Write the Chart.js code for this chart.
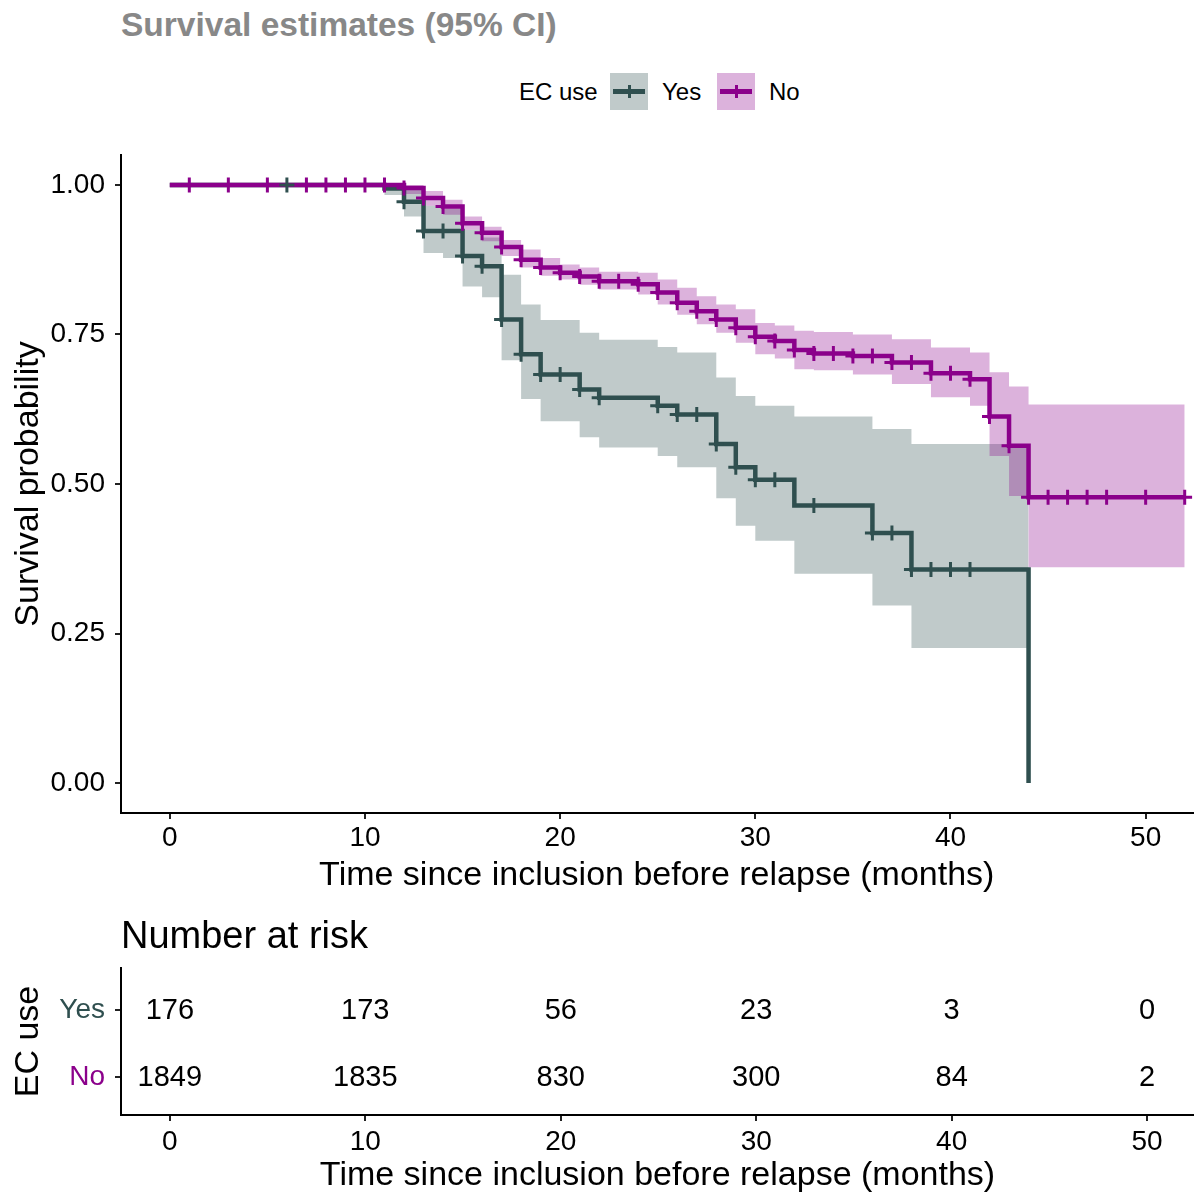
<!DOCTYPE html>
<html>
<head>
<meta charset="utf-8">
<title>Survival estimates</title>
<script src="https://cdn.jsdelivr.net/npm/chart.js"></script>
<style>
  body { margin: 0; background: #fff; width: 1194px; height: 1196px; position: relative; overflow: hidden;
         font-family: "Liberation Sans", Arial, sans-serif; }
  canvas { position: absolute; left: 0; }
  #kmChart { top: 0; }
  #riskChart { top: 900px; }
  .txt { position: absolute; white-space: nowrap; line-height: 1; }
  .key { position: absolute; width: 38px; height: 37px; }
  .key .ln { position: absolute; left: 3px; top: 16px; width: 32px; height: 5px; }
  .key .tk { position: absolute; left: 17.5px; top: 12px; width: 3px; height: 13px; }
</style>
</head>
<body>

<div class="txt" style="left:121px; top:8px; font-size:33.5px; font-weight:bold; color:#888;">Survival estimates (95% CI)</div>

<!-- leyenda -->
<div class="txt" style="left:519px; top:80px; font-size:24px; color:#000;">EC use</div>
<div class="key" style="left:610px; top:73px; background:rgba(47,79,79,0.3);">
  <div class="ln" style="background:#2F4F4F;"></div><div class="tk" style="background:#2F4F4F;"></div>
</div>
<div class="txt" style="left:662px; top:80px; font-size:24px; color:#000;">Yes</div>
<div class="key" style="left:717px; top:73px; background:rgba(139,0,139,0.3);">
  <div class="ln" style="background:#8B008B;"></div><div class="tk" style="background:#8B008B;"></div>
</div>
<div class="txt" style="left:769px; top:80px; font-size:24px; color:#000;">No</div>

<!-- el lienzo es 9px más ancho: Chart.js reserva ese margen para las cruces -->
<canvas id="kmChart" width="1203" height="900"></canvas>
<canvas id="riskChart" width="1194" height="296"></canvas>

<div class="txt" style="left:121px; top:916px; font-size:38px; color:#000;">Number at risk</div>

<script>
// Datos
const xTicks = [0, 10, 20, 30, 40, 50];
const yTicks = [0, 0.25, 0.5, 0.75, 1];

// EC use = Yes
const yesTime  = [0, 11, 12, 13, 14, 15, 16, 17, 18, 19, 21, 22, 25, 26, 28, 29, 30, 32, 36, 38, 44];
const yesSurv  = [1, 0.994, 0.972, 0.923, 0.923, 0.881, 0.864, 0.775, 0.717, 0.683, 0.658, 0.644, 0.631, 0.616, 0.567, 0.528, 0.507, 0.464, 0.418, 0.357, 0];
const yesLower = [1, 0.983, 0.947, 0.886, 0.878, 0.83, 0.812, 0.707, 0.642, 0.605, 0.578, 0.561, 0.547, 0.528, 0.476, 0.43, 0.405, 0.35, 0.297, 0.226, 0.226];
const yesUpper = [1, 1, 0.995, 0.965, 0.96, 0.925, 0.912, 0.85, 0.8, 0.774, 0.753, 0.741, 0.729, 0.72, 0.678, 0.647, 0.631, 0.613, 0.592, 0.567, 0.567];
const yesCensor = [6, 12, 13, 14, 15, 16, 17, 18, 19, 20, 21, 22, 25, 26, 27, 28, 29, 30, 31, 33, 36, 37, 38, 39, 40, 41];

// EC use = No
const noTime  = [0, 12, 13, 14, 15, 16, 17, 18, 19, 20, 21, 22, 24, 25, 26, 27, 28, 29, 30, 31, 32, 33, 35, 37, 39, 41, 42, 43, 44, 52];
const noSurv  = [1, 0.995, 0.978, 0.964, 0.936, 0.92, 0.896, 0.875, 0.862, 0.853, 0.847, 0.839, 0.834, 0.82, 0.803, 0.789, 0.775, 0.761, 0.746, 0.739, 0.724, 0.718, 0.714, 0.703, 0.685, 0.675, 0.613, 0.564, 0.478, 0.478];
const noLower = [1, 0.985, 0.965, 0.95, 0.925, 0.906, 0.881, 0.862, 0.848, 0.842, 0.833, 0.825, 0.817, 0.8, 0.783, 0.767, 0.753, 0.736, 0.717, 0.71, 0.692, 0.69, 0.683, 0.667, 0.645, 0.631, 0.547, 0.48, 0.361, 0.361];
const noUpper = [1, 1, 0.99, 0.975, 0.947, 0.93, 0.908, 0.892, 0.878, 0.867, 0.862, 0.855, 0.853, 0.842, 0.828, 0.814, 0.8, 0.792, 0.769, 0.765, 0.756, 0.754, 0.75, 0.742, 0.728, 0.72, 0.687, 0.663, 0.633, 0.633];
const noCensor = [1, 3, 5, 7, 8, 9, 10, 11, 12, 13, 14, 15, 16, 17, 18, 19, 20, 21, 22, 23, 24, 25, 26, 27, 28, 29, 30, 31, 32, 33, 34, 35, 36, 37, 38, 39, 40, 41, 42, 43, 44, 45, 46, 47, 48, 50, 52];

// Tabla de número en riesgo
const riskGroups = ['Yes', 'No'];
const riskTimes = [0, 10, 20, 30, 40, 50];
const riskYes = [176, 173, 56, 23, 3, 0];
const riskNo = [1849, 1835, 830, 300, 84, 2];

const FONT = '"Liberation Sans", Arial, sans-serif';
const colYes = '#2F4F4F';
const colNo = '#8B008B';
const fillYes = 'rgba(47,79,79,0.3)';
const fillNo = 'rgba(139,0,139,0.3)';

Chart.defaults.font.family = FONT;

function pts(times, vals) {
  return times.map((t, i) => ({ x: t, y: vals[i] }));
}
// valor de la curva escalonada en el tiempo t
function stepValue(times, vals, t) {
  let v = vals[0];
  for (let i = 0; i < times.length; i++) {
    if (times[i] <= t) v = vals[i];
  }
  return v;
}
function censorPts(cens, times, vals) {
  return cens.map(t => ({ x: t, y: stepValue(times, vals, t) }));
}

function band(data, extra) {
  return Object.assign({
    data: data, stepped: true, pointRadius: 0, pointHoverRadius: 0, borderWidth: 0,
    borderColor: 'rgba(0,0,0,0)', fill: false
  }, extra);
}
function curve(data, color, order) {
  return {
    data: data, stepped: true, pointRadius: 0, pointHoverRadius: 0, borderWidth: 4.5, borderColor: color,
    borderJoinStyle: 'miter', borderCapStyle: 'butt', fill: false, order: order
  };
}
function ticksDs(data, color, order) {
  return {
    data: data, showLine: false, pointStyle: 'cross', pointRadius: 7.5, pointHoverRadius: 7.5, pointBorderWidth: 3,
    pointBorderColor: color, pointBackgroundColor: color, order: order
  };
}

const axisGrid = { drawOnChartArea: false, drawTicks: true, tickLength: 6, color: '#222', lineWidth: 2 };
const axisBorder = { display: true, color: '#000', width: 2 };
const tickFont = { family: FONT, size: 28 };
const titleFont = { family: FONT, size: 34, lineHeight: 1.2 };

new Chart(document.getElementById('kmChart'), {
  type: 'line',
  data: {
    datasets: [
      band(pts(yesTime, yesUpper), { order: 5 }),
      band(pts(yesTime, yesLower), { order: 5, fill: { target: 0 }, backgroundColor: fillYes }),
      band(pts(noTime, noUpper), { order: 4 }),
      band(pts(noTime, noLower), { order: 4, fill: { target: 2 }, backgroundColor: fillNo }),
      curve(pts(yesTime, yesSurv), colYes, 3),
      curve(pts(noTime, noSurv), colNo, 2),
      ticksDs(censorPts(yesCensor, yesTime, yesSurv), colYes, 1),
      ticksDs(censorPts(noCensor, noTime, noSurv), colNo, 0)
    ]
  },
  options: {
    responsive: false,
    animation: false,
    events: [],
    layout: { padding: { top: 155, left: 0, right: 0, bottom: 0 } },
    plugins: { legend: { display: false }, tooltip: { enabled: false } },
    scales: {
      x: {
        type: 'linear', min: -2.5, max: 52.4,
        afterBuildTicks: s => { s.ticks = xTicks.map(v => ({ value: v })); },
        afterFit: s => { s.height = 87; },
        ticks: { font: tickFont, color: '#000', padding: 2, maxRotation: 0 },
        grid: axisGrid,
        border: axisBorder,
        title: { display: true, text: 'Time since inclusion before relapse (months)', font: titleFont, color: '#000', padding: { top: 0, bottom: 3.5 } }
      },
      y: {
        type: 'linear', min: -0.05, max: 1.05,
        afterBuildTicks: s => { s.ticks = yTicks.map(v => ({ value: v })); },
        afterFit: s => { s.width = 121; },
        ticks: { font: tickFont, color: '#000', padding: 10, callback: v => Number(v).toFixed(2) },
        grid: axisGrid,
        border: axisBorder,
        title: { display: true, text: 'Survival probability', font: titleFont, color: '#000', padding: { top: 8, bottom: 0 } }
      }
    }
  }
});

// Plugin para escribir los números de la tabla
const riskLabels = {
  id: 'riskLabels',
  afterDatasetsDraw(chart) {
    const ctx = chart.ctx;
    ctx.save();
    ctx.font = '29px ' + FONT;
    ctx.fillStyle = '#000';
    ctx.textAlign = 'center';
    ctx.textBaseline = 'middle';
    chart.data.datasets.forEach((ds, di) => {
      chart.getDatasetMeta(di).data.forEach((el, i) => {
        ctx.fillText(String(ds.data[i].n), el.x, el.y + 1);
      });
    });
    ctx.restore();
  }
};

const riskPoint = { pointRadius: 0, pointHoverRadius: 0, pointBorderWidth: 0, borderWidth: 0 };

new Chart(document.getElementById('riskChart'), {
  type: 'scatter',
  data: {
    datasets: [
      Object.assign({ data: riskTimes.map((t, i) => ({ x: t, y: 1, n: riskYes[i] })) }, riskPoint),
      Object.assign({ data: riskTimes.map((t, i) => ({ x: t, y: 2, n: riskNo[i] })) }, riskPoint)
    ]
  },
  options: {
    responsive: false,
    animation: false,
    events: [],
    layout: { padding: { top: 68, left: 0, right: 0, bottom: 0 } },
    plugins: { legend: { display: false }, tooltip: { enabled: false } },
    scales: {
      x: {
        type: 'linear', min: -2.5, max: 52.4,
        afterBuildTicks: s => { s.ticks = xTicks.map(v => ({ value: v })); },
        afterFit: s => { s.height = 81; },
        ticks: { font: tickFont, color: '#000', padding: 4, maxRotation: 0 },
        grid: axisGrid,
        border: axisBorder,
        title: { display: true, text: 'Time since inclusion before relapse (months)', font: titleFont, color: '#000', padding: { top: 0, bottom: 0 } }
      },
      y: {
        type: 'linear', min: 0.38, max: 2.56, reverse: true,
        afterBuildTicks: s => { s.ticks = [1, 2].map(v => ({ value: v })); },
        afterFit: s => { s.width = 121; },
        ticks: {
          font: tickFont, padding: 10,
          callback: v => riskGroups[v - 1],
          color: c => (c.tick && c.tick.value === 1 ? colYes : colNo)
        },
        grid: axisGrid,
        border: axisBorder,
        title: { display: true, text: 'EC use', font: titleFont, color: '#000', padding: { top: 8, bottom: 0 } }
      }
    }
  },
  plugins: [riskLabels]
});
</script>
</body>
</html>
